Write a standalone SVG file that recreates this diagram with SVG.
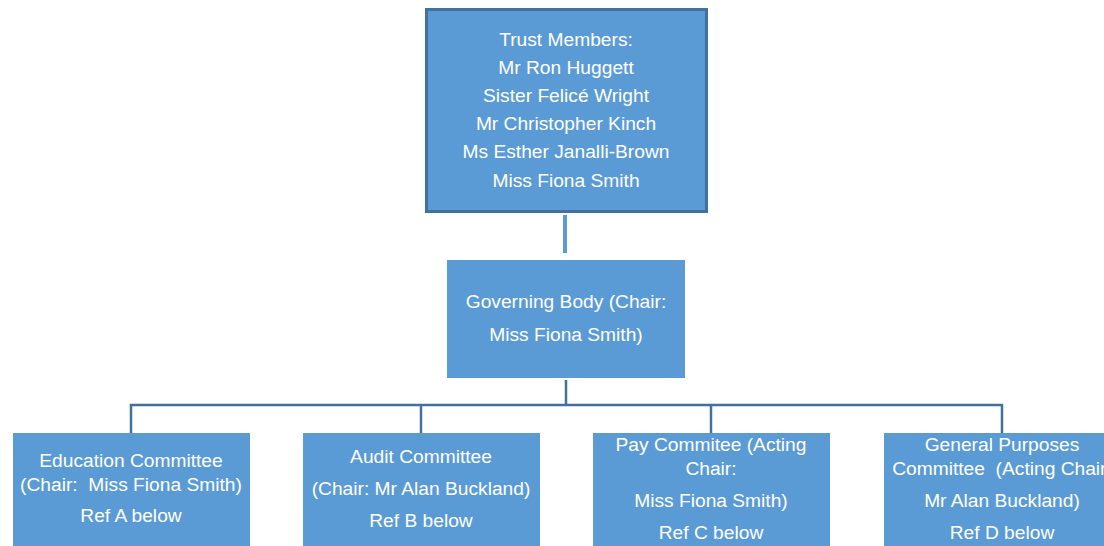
<svg xmlns="http://www.w3.org/2000/svg" width="1104" height="546" viewBox="0 0 1104 546">
<style>
.box{fill:#5B9BD5;}
.t{font-family:"Liberation Sans",Arial,sans-serif;font-size:19.2px;fill:#FFFFFF;text-anchor:middle;white-space:pre;}
.c{stroke:#41719C;stroke-width:2.5;fill:none;}
</style>
<rect width="1104" height="546" fill="#FFFFFF"/>
<g id="connectors">
<line x1="565" y1="215" x2="565" y2="253" stroke="#5B9BD5" stroke-width="4"/>
<line class="c" x1="566" y1="380" x2="566" y2="405"/>
<polyline class="c" points="131,433 131,405 1002,405 1002,433"/>
<line class="c" x1="421" y1="405" x2="421" y2="433"/>
<line class="c" x1="711" y1="405" x2="711" y2="433"/>
</g>
<g id="trust">
<rect class="box" x="426.5" y="9.5" width="280" height="202" stroke="#41719C" stroke-width="3"/>
<text class="t" x="566" y="46">Trust Members:</text>
<text class="t" x="566" y="74">Mr Ron Huggett</text>
<text class="t" x="566" y="102">Sister Felicé Wright</text>
<text class="t" x="566" y="130">Mr Christopher Kinch</text>
<text class="t" x="566" y="158">Ms Esther Janalli-Brown</text>
<text class="t" x="566" y="187">Miss Fiona Smith</text>
</g>
<g id="governing">
<rect class="box" x="447" y="260" width="238" height="118"/>
<text class="t" x="566" y="308">Governing Body (Chair:</text>
<text class="t" x="566" y="341">Miss Fiona Smith)</text>
</g>
<g id="education">
<rect class="box" x="13" y="433" width="237" height="120"/>
<text class="t" x="131" y="467">Education Committee</text>
<text class="t" x="131" y="491" xml:space="preserve">(Chair:  Miss Fiona Smith)</text>
<text class="t" x="131" y="522">Ref A below</text>
</g>
<g id="audit">
<rect class="box" x="303" y="433" width="237" height="120"/>
<text class="t" x="421" y="463">Audit Committee</text>
<text class="t" x="421" y="495">(Chair: Mr Alan Buckland)</text>
<text class="t" x="421" y="527">Ref B below</text>
</g>
<g id="pay">
<rect class="box" x="593" y="433" width="237" height="120"/>
<text class="t" x="711" y="451">Pay Commitee (Acting</text>
<text class="t" x="711" y="475">Chair:</text>
<text class="t" x="711" y="507">Miss Fiona Smith)</text>
<text class="t" x="711" y="539">Ref C below</text>
</g>
<g id="general">
<rect class="box" x="884" y="433" width="237" height="120"/>
<text class="t" x="1002" y="451">General Purposes</text>
<text class="t" x="1002" y="475" xml:space="preserve">Committee  (Acting Chair:</text>
<text class="t" x="1002" y="507">Mr Alan Buckland)</text>
<text class="t" x="1002" y="539">Ref D below</text>
</g>
</svg>
